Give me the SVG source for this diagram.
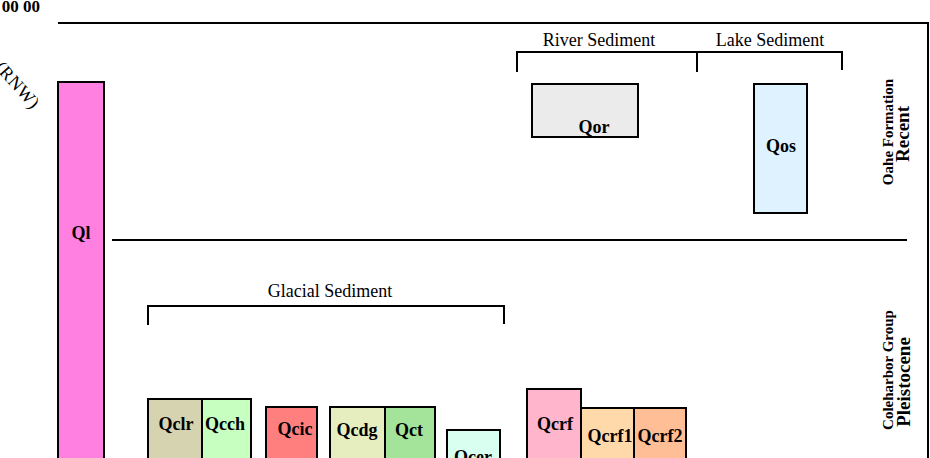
<svg xmlns="http://www.w3.org/2000/svg" width="930" height="458" viewBox="0 0 930 458">
<style>
.bx{stroke:#000;stroke-width:2}
.ln{stroke:#000;stroke-width:2;fill:none}
.lb{font-family:"Liberation Serif",serif;font-weight:bold;font-size:18px;text-anchor:middle;fill:#000}
.gt{font-family:"Liberation Serif",serif;font-size:18px;text-anchor:middle;fill:#000}
.rt{font-family:"Liberation Serif",serif;font-weight:bold;text-anchor:middle;fill:#000}
</style>
<rect width="930" height="458" fill="#fff"/>
<text x="40" y="12" class="rt" font-size="17" style="text-anchor:end">00 00</text>
<text transform="translate(32,110) rotate(48)" class="gt" style="text-anchor:end" font-size="15" letter-spacing="0.5">(RNW)</text>
<g id="connectors">
<path class="ln" d="M58 23H928V458"/>
<path class="ln" d="M112 240H907"/>
<path class="ln" d="M517 72V52H842V70M697 52V72"/>
<path class="ln" d="M148 325V306H504V324"/>
</g>
<g id="labels">
<text x="599" y="46" class="gt">River Sediment</text>
<text x="770" y="46" class="gt">Lake Sediment</text>
<text x="330" y="297" class="gt">Glacial Sediment</text>
<text transform="translate(893,132) rotate(-90)" class="rt" font-size="15">Oahe Formation</text>
<text transform="translate(909,134) rotate(-90)" class="rt" font-size="19">Recent</text>
<text transform="translate(893,370) rotate(-90)" class="rt" font-size="15">Coleharbor Group</text>
<text transform="translate(910,382) rotate(-90)" class="rt" font-size="19">Pleistocene</text>
</g>
<g id="Ql"><rect class="bx" x="58" y="82" width="46" height="390" fill="#FF80E0"/><text x="81" y="239" class="lb">Ql</text></g>
<g id="Qor"><rect class="bx" x="532" y="84" width="106" height="53" fill="#EBEBEB"/><text x="594" y="133" class="lb">Qor</text></g>
<g id="Qos"><rect class="bx" x="754" y="84" width="53" height="129" fill="#DEF2FF"/><text x="781" y="152" class="lb">Qos</text></g>
<g id="Qclr"><rect class="bx" x="148" y="399" width="54" height="70" fill="#D6D3B0"/><text x="176" y="430" class="lb">Qclr</text></g>
<g id="Qcch"><rect class="bx" x="202" y="399" width="49" height="70" fill="#C6FFC0"/><text x="225" y="430" class="lb">Qcch</text></g>
<g id="Qcic"><rect class="bx" x="266" y="407" width="51" height="62" fill="#FF7F7F"/><text x="295" y="435" class="lb">Qcic</text></g>
<g id="Qcdg"><rect class="bx" x="330" y="407" width="55" height="62" fill="#E6EEC0"/><text x="357" y="436" class="lb">Qcdg</text></g>
<g id="Qct"><rect class="bx" x="385" y="407" width="50" height="62" fill="#A4E39A"/><text x="409" y="436" class="lb">Qct</text></g>
<g id="Qcer"><rect class="bx" x="447" y="430" width="53" height="40" fill="#D8FFF0"/><text x="473" y="463" class="lb">Qcer</text></g>
<g id="Qcrf"><rect class="bx" x="527" y="389" width="54" height="80" fill="#FFB6CC"/><text x="555" y="430" class="lb">Qcrf</text></g>
<g id="Qcrf1"><rect class="bx" x="581" y="408" width="53" height="61" fill="#FFD9AA"/><text x="610" y="442" class="lb">Qcrf1</text></g>
<g id="Qcrf2"><rect class="bx" x="634" y="408" width="52" height="61" fill="#FFBE96"/><text x="660" y="442" class="lb">Qcrf2</text></g>
</svg>
